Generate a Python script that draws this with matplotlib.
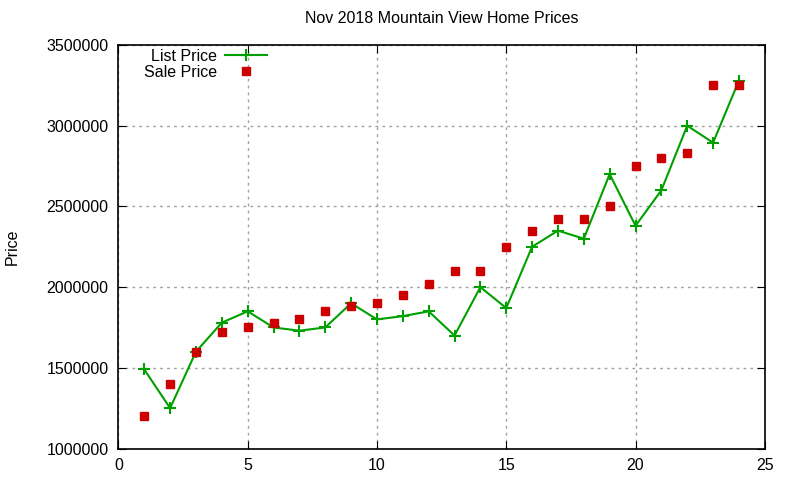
import matplotlib
matplotlib.use("Agg")
import matplotlib.pyplot as plt

x = list(range(1, 25))
list_price = [1490000, 1250000, 1600000, 1780000, 1850000, 1750000, 1730000, 1750000,
              1900000, 1800000, 1820000, 1850000, 1700000, 2000000, 1870000, 2250000,
              2350000, 2300000, 2700000, 2380000, 2600000, 3000000, 2895000, 3280000]
sale_price = [1200000, 1400000, 1600000, 1725000, 1750000, 1780000, 1800000, 1850000,
              1880000, 1900000, 1950000, 2020000, 2100000, 2100000, 2250000, 2350000,
              2420000, 2425000, 2500000, 2750000, 2800000, 2830000, 3250000, 3250000]
xticks = [0, 5, 10, 15, 20, 25]
yticks = [1000000, 1500000, 2000000, 2500000, 3000000, 3500000]

plt.rcParams['font.family'] = ['Liberation Sans', 'DejaVu Sans']
fig = plt.figure(figsize=(8, 4.8), dpi=100)
ax = fig.add_axes([0.148, 0.0656, 0.808, 0.8406])

ax.plot(x, list_price, color='#00a000', lw=1.5, marker='+', ms=9, mew=1.5, label='List Price')
ax.plot(x, sale_price, ls='none', color='#cc0000', marker='s', ms=6, label='Sale Price')

ax.set_xlim(0, 25)
ax.set_ylim(1000000, 3500000)
ax.set_xticks(xticks)
ax.set_yticks(yticks)
ax.set_xticklabels([str(v) for v in xticks])
ax.set_yticklabels([str(v) for v in yticks])
ax.tick_params(direction='in', top=True, right=True, length=6, labelsize=11.5, pad=7)
ax.grid(True, color='#a0a0a0', ls=(0, (2, 3)), lw=1)
for s in ax.spines.values():
    s.set_linewidth(1.2)

ax.set_title('Nov 2018 Mountain View Home Prices', fontsize=11.5, pad=16)
ax.set_ylabel('Price', fontsize=11.5, labelpad=19)

leg = ax.legend(loc='upper right', bbox_to_anchor=(267 / 800, 1 - 49 / 480),
                bbox_transform=fig.transFigure, frameon=False, markerfirst=False,
                fontsize=11.5, handlelength=2.6, labelspacing=0.05, borderaxespad=0,
                borderpad=0, handletextpad=0.55)

fig.savefig('out.png', dpi=100)
